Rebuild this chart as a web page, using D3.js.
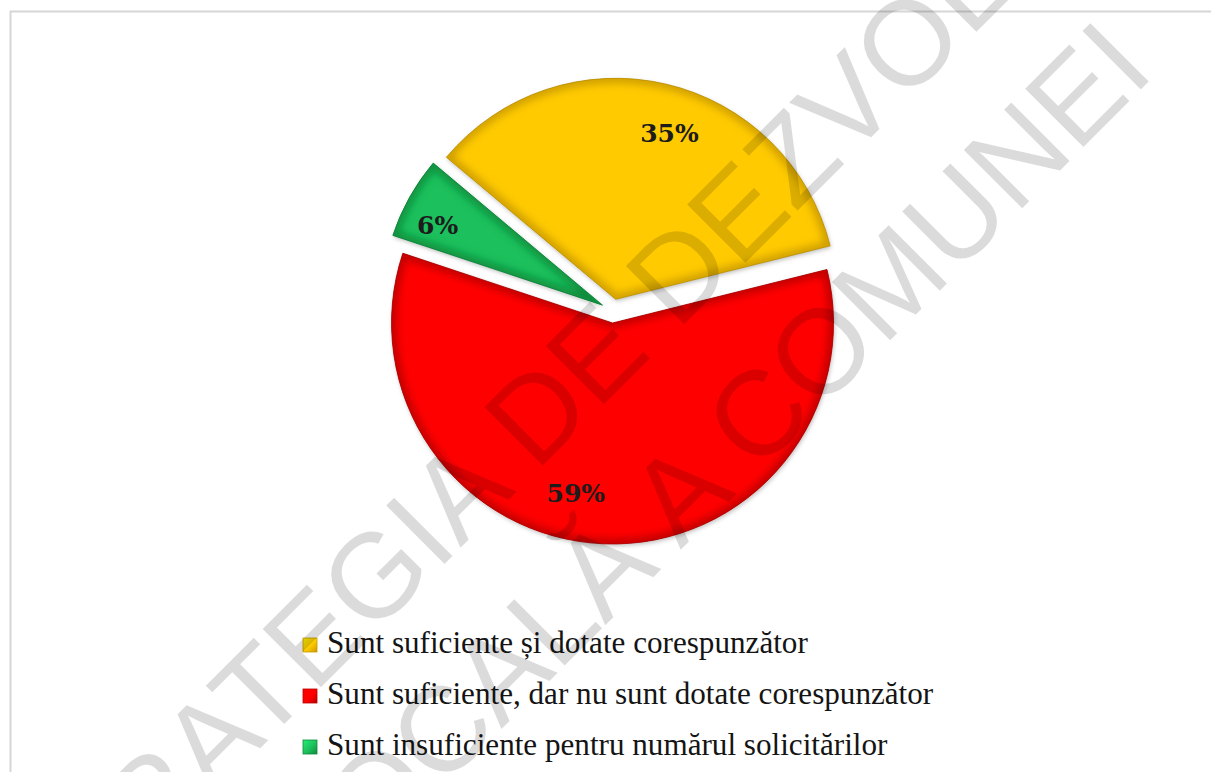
<!DOCTYPE html>
<html>
<head>
<meta charset="utf-8">
<script src="https://cdn.jsdelivr.net/npm/d3@7"></script>
<style>
  html, body { margin: 0; padding: 0; background: #ffffff; }
  svg { display: block; }
</style>
</head>
<body>
<svg id="chart" width="1211" height="772"></svg>
<script>
// ---- data ----
const categories = [
  "Sunt suficiente și dotate corespunzător",
  "Sunt suficiente, dar nu sunt dotate corespunzător",
  "Sunt insuficiente pentru numărul solicitărilor"
];
const values = [35, 59, 6];
const valueLabels = ["35%", "59%", "6%"];
const watermarkLines = ["STRATEGIA DE DEZVOLTARE", "LOCALĂ A COMUNEI"];

// ---- styles ----
const fills = ["#FFCA00", "#FF0000", "#1CC05C"];
const edges = ["#C99A00", "#B80000", "#0D8A3A"];
const labelAngleShift = [5, 10, -3.5];
const labelRadius = [174, 174, 183];

const svg = d3.select("#chart");
const W = 1211, H = 772;
const cx = 613, cy = 311, R = 221, explode = 12;
const deg = Math.PI / 180;

const defs = svg.append("defs");
const blur = defs.append("filter").attr("id", "blur").attr("x", "-20%").attr("y", "-20%").attr("width", "140%").attr("height", "140%");
blur.append("feGaussianBlur").attr("stdDeviation", 4);
const shadow = defs.append("filter").attr("id", "shadow").attr("x", "-20%").attr("y", "-20%").attr("width", "140%").attr("height", "140%");
shadow.append("feDropShadow").attr("dx", 1).attr("dy", 2).attr("stdDeviation", 2).attr("flood-color", "#000").attr("flood-opacity", 0.25);

fills.forEach((c, i) => {
  const g = defs.append("linearGradient").attr("id", "lg" + i).attr("x1", 0).attr("y1", 0).attr("x2", 1).attr("y2", 1);
  g.append("stop").attr("offset", "0%").attr("stop-color", d3.color(c).brighter(0.6));
  g.append("stop").attr("offset", "55%").attr("stop-color", c);
  g.append("stop").attr("offset", "100%").attr("stop-color", edges[i]);
});

// frame
svg.append("path")
  .attr("d", `M10.5,${H} L10.5,11.5 L${W},11.5`)
  .attr("fill", "none").attr("stroke", "#d6d6d6").attr("stroke-width", 2);

// pie
const pie = d3.pie().sort(null).value(d => d)
  .startAngle(310 * deg).endAngle(310 * deg + 2 * Math.PI);
const arcs = pie(values);
const arc = d3.arc().innerRadius(0).outerRadius(R);

const pieG = svg.append("g").attr("transform", `translate(${cx},${cy})`);

arcs.forEach((a, i) => {
  const mid = (a.startAngle + a.endAngle) / 2;
  const dx = Math.sin(mid) * explode, dy = -Math.cos(mid) * explode;
  const sg = pieG.append("g").attr("transform", `translate(${dx},${dy})`);
  const d = arc(a);
  defs.append("clipPath").attr("id", "clip" + i).append("path").attr("d", d);
  sg.append("path").attr("d", d).attr("fill", fills[i]).attr("filter", "url(#shadow)");
  sg.append("g").attr("clip-path", `url(#clip${i})`)
    .append("path").attr("d", d)
    .attr("fill", "none").attr("stroke", edges[i]).attr("stroke-width", 9)
    .attr("stroke-linejoin", "round").attr("filter", "url(#blur)");
  sg.append("path").attr("d", d).attr("fill", "none")
    .attr("stroke", d3.color(edges[i]).darker(0.3)).attr("stroke-width", 1).attr("stroke-opacity", 0.8);

  const la = mid + labelAngleShift[i] * deg;
  sg.append("text")
    .attr("x", Math.sin(la) * labelRadius[i]).attr("y", -Math.cos(la) * labelRadius[i])
    .attr("text-anchor", "middle").attr("dominant-baseline", "central")
    .attr("font-family", "DejaVu Serif").attr("font-weight", "bold").attr("font-size", 25)
    .attr("fill", "#1c1c1c")
    .text(valueLabels[i]);
});

// legend
const legG = svg.append("g");
const legX = 303, legY0 = 653, legStep = 51, box = 14;
categories.forEach((c, i) => {
  const y = legY0 + i * legStep;
  legG.append("rect").attr("x", legX).attr("y", y - box - 1).attr("width", box).attr("height", box)
    .attr("fill", `url(#lg${i})`).attr("stroke", edges[i]).attr("stroke-width", 0.8);
  legG.append("text").attr("class", "legtxt").attr("x", legX + 24).attr("y", y)
    .attr("font-family", "Liberation Serif").attr("font-size", 28).attr("fill", "#141414")
    .text(c);
});
// fit legend font so first line spans the reference width
const first = legG.select(".legtxt").node();
const w0 = first.getComputedTextLength();
const fs = 28 * 481 / w0;
legG.selectAll(".legtxt").attr("font-size", fs);

// watermark
const wm = svg.append("g").attr("transform", "rotate(-45)").attr("pointer-events", "none");
const wmSpec = [
  { v: 713, charIdx: 13, u: 288 },
  { v: 870, charIdx: 7, u: 129 }
];
watermarkLines.forEach((t, i) => {
  const tx = wm.append("text").attr("x", 0).attr("y", wmSpec[i].v)
    .attr("font-family", "Liberation Sans").attr("font-size", 120)
    .attr("fill", "#000").attr("fill-opacity", 0.14)
    .text(t);
  const n = tx.node();
  const s = n.getStartPositionOfChar(wmSpec[i].charIdx).x;
  const e = n.getEndPositionOfChar(wmSpec[i].charIdx).x;
  tx.attr("x", wmSpec[i].u - (s + e) / 2);
});
</script>
</body>
</html>
